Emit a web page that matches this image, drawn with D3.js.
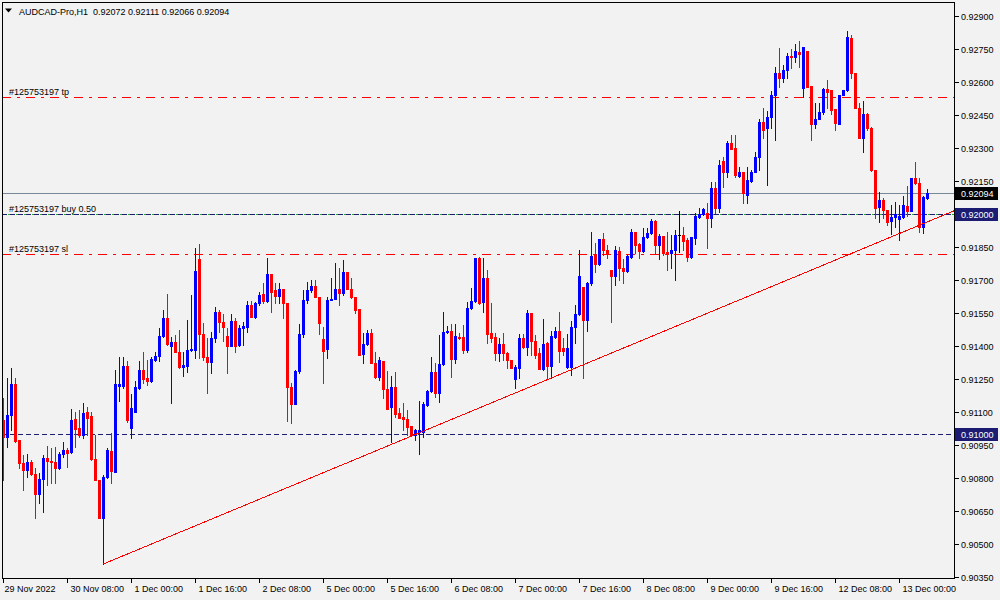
<!DOCTYPE html>
<html><head><meta charset="utf-8">
<script src="https://cdn.jsdelivr.net/npm/d3@7"></script>
<style>
body{margin:0;background:#f2f2f2}
svg{display:block}
text{font-family:"Liberation Sans",Arial,sans-serif;font-size:9px;fill:#000}
</style>
</head><body>
<svg id="c" width="1000" height="600"></svg>
<script>
// ---------- data ----------
const symbolTitle = "AUDCAD-Pro,H1";
const titleOHLC = ["0.92072","0.92111","0.92066","0.92094"];

const open = [
0.91062,0.90985,0.91085,0.91226,0.90971,0.90867,0.90835,0.90871,0.90817,0.90726,
0.90794,0.90890,0.90876,0.90871,0.90844,0.90908,0.90926,0.90917,0.91067,0.91026,
0.90994,0.91099,0.91081,0.90885,0.90790,0.90617,0.90803,0.90921,0.90826,0.91217,
0.91217,0.91308,0.91026,0.91099,0.91208,0.91290,0.91253,0.91240,0.91335,0.91353,
0.91444,0.91526,0.91399,0.91417,0.91371,0.91303,0.91308,0.91380,0.91380,0.91794,
0.91453,0.91349,0.91326,0.91435,0.91553,0.91508,0.91444,0.91399,0.91512,0.91403,
0.91480,0.91485,0.91585,0.91531,0.91594,0.91635,0.91603,0.91726,0.91653,0.91626,
0.91658,0.91594,0.91212,0.91135,0.91285,0.91453,0.91608,0.91653,0.91671,0.91621,
0.91431,0.91385,0.91608,0.91612,0.91658,0.91640,0.91735,0.91658,0.91621,0.91567,
0.91362,0.91408,0.91458,0.91321,0.91258,0.91330,0.91203,0.91121,0.91212,0.91094,
0.91076,0.91067,0.91035,0.90994,0.91008,0.91008,0.91131,0.91194,0.91281,0.91185,
0.91317,0.91462,0.91467,0.91340,0.91440,0.91440,0.91380,0.91572,0.91603,0.91799,
0.91599,0.91708,0.91458,0.91440,0.91367,0.91408,0.91367,0.91335,0.91249,0.91299,
0.91435,0.91394,0.91549,0.91421,0.91367,0.91294,0.91412,0.91308,0.91440,0.91467,
0.91390,0.91303,0.91303,0.91485,0.91544,0.91667,0.91517,0.91685,0.91817,0.91772,
0.91885,0.91835,0.91744,0.91717,0.91831,0.91753,0.91740,0.91803,0.91917,0.91862,
0.91831,0.91894,0.91912,0.91967,0.91858,0.91899,0.91826,0.91822,0.91835,0.91903,
0.91903,0.91880,0.91803,0.91890,0.91985,0.91999,0.92003,0.91981,0.92117,0.92026,
0.92240,0.92190,0.92321,0.92299,0.92172,0.92190,0.92085,0.92149,0.92190,0.92258,
0.92417,0.92390,0.92440,0.92540,0.92640,0.92617,0.92653,0.92717,0.92712,0.92735,
0.92571,0.92740,0.92581,0.92408,0.92430,0.92462,0.92567,0.92562,0.92476,0.92408,
0.92540,0.92562,0.92799,0.92640,0.92481,0.92344,0.92453,0.92390,0.92199,0.92031,
0.92062,0.92017,0.91967,0.91985,0.91976,0.91985,0.92035,0.92012,0.92162,0.92140,
0.91940,0.92072];

const high = [
0.91162,0.91253,0.91299,0.91253,0.90971,0.90903,0.90908,0.90880,0.90844,0.90821,
0.90903,0.90944,0.90935,0.90940,0.90917,0.90962,0.90935,0.91112,0.91099,0.91108,
0.91140,0.91121,0.91099,0.90994,0.90790,0.90812,0.90935,0.91003,0.91290,0.91349,
0.91349,0.91330,0.91180,0.91240,0.91330,0.91371,0.91335,0.91349,0.91371,0.91480,
0.91562,0.91635,0.91440,0.91449,0.91471,0.91371,0.91517,0.91630,0.91844,0.91862,
0.91503,0.91435,0.91462,0.91576,0.91562,0.91544,0.91480,0.91544,0.91526,0.91494,
0.91508,0.91603,0.91603,0.91599,0.91644,0.91685,0.91799,0.91726,0.91685,0.91685,
0.91658,0.91594,0.91231,0.91290,0.91499,0.91653,0.91689,0.91699,0.91699,0.91621,
0.91485,0.91621,0.91708,0.91776,0.91753,0.91790,0.91735,0.91708,0.91621,0.91567,
0.91458,0.91471,0.91476,0.91371,0.91349,0.91330,0.91285,0.91262,0.91281,0.91117,
0.91140,0.91108,0.91035,0.91021,0.91149,0.91144,0.91199,0.91349,0.91321,0.91449,
0.91553,0.91490,0.91499,0.91499,0.91458,0.91494,0.91599,0.91662,0.91799,0.91803,
0.91799,0.91744,0.91594,0.91458,0.91435,0.91458,0.91371,0.91335,0.91312,0.91453,
0.91453,0.91562,0.91549,0.91449,0.91390,0.91522,0.91417,0.91467,0.91485,0.91553,
0.91435,0.91453,0.91512,0.91585,0.91835,0.91667,0.91689,0.91917,0.91867,0.91885,
0.91912,0.91858,0.91744,0.91853,0.91849,0.91794,0.91812,0.91930,0.91917,0.91867,
0.91935,0.91935,0.91976,0.91971,0.91908,0.91899,0.91917,0.91903,0.91926,0.92012,
0.91940,0.91890,0.91894,0.92003,0.92026,0.92026,0.92049,0.92144,0.92144,0.92244,
0.92258,0.92331,0.92358,0.92358,0.92213,0.92190,0.92213,0.92199,0.92281,0.92430,
0.92481,0.92467,0.92558,0.92667,0.92753,0.92676,0.92730,0.92749,0.92771,0.92785,
0.92758,0.92740,0.92581,0.92503,0.92503,0.92571,0.92608,0.92562,0.92476,0.92540,
0.92562,0.92831,0.92812,0.92640,0.92503,0.92512,0.92458,0.92394,0.92199,0.92099,
0.92071,0.92017,0.92040,0.92053,0.92040,0.92081,0.92126,0.92162,0.92235,0.92162,
0.92081,0.92111];

const low = [
0.90790,0.90940,0.91017,0.90962,0.90844,0.90744,0.90803,0.90812,0.90617,0.90685,
0.90644,0.90767,0.90776,0.90776,0.90840,0.90894,0.90849,0.90912,0.90940,0.90985,
0.90981,0.90994,0.90880,0.90790,0.90617,0.90408,0.90799,0.90776,0.90826,0.91149,
0.91208,0.91053,0.90981,0.91099,0.91203,0.91231,0.91221,0.91235,0.91330,0.91330,
0.91440,0.91403,0.91140,0.91371,0.91299,0.91262,0.91281,0.91376,0.91344,0.91344,
0.91335,0.91185,0.91276,0.91417,0.91462,0.91421,0.91276,0.91399,0.91371,0.91399,
0.91403,0.91462,0.91531,0.91526,0.91585,0.91594,0.91599,0.91553,0.91594,0.91594,
0.91526,0.91058,0.91049,0.91135,0.91276,0.91440,0.91594,0.91644,0.91621,0.91453,
0.91231,0.91344,0.91608,0.91612,0.91585,0.91630,0.91658,0.91617,0.91549,0.91358,
0.91321,0.91403,0.91321,0.91253,0.91244,0.91162,0.91112,0.90962,0.91076,0.91071,
0.91017,0.90994,0.90994,0.90971,0.90908,0.90985,0.91126,0.91190,0.91167,0.91144,
0.91312,0.91458,0.91258,0.91321,0.91431,0.91367,0.91371,0.91567,0.91599,0.91590,
0.91553,0.91412,0.91417,0.91335,0.91330,0.91335,0.91299,0.91299,0.91208,0.91253,
0.91390,0.91358,0.91358,0.91344,0.91294,0.91290,0.91253,0.91253,0.91435,0.91326,
0.91358,0.91299,0.91267,0.91412,0.91540,0.91253,0.91467,0.91676,0.91735,0.91767,
0.91812,0.91799,0.91508,0.91676,0.91699,0.91685,0.91735,0.91799,0.91822,0.91799,
0.91826,0.91890,0.91908,0.91817,0.91794,0.91812,0.91744,0.91753,0.91699,0.91826,
0.91835,0.91785,0.91799,0.91862,0.91981,0.91994,0.91844,0.91940,0.92003,0.92008,
0.92122,0.92167,0.92294,0.92167,0.92167,0.92049,0.92049,0.92144,0.92190,0.92199,
0.92344,0.92131,0.92390,0.92335,0.92576,0.92599,0.92617,0.92662,0.92690,0.92667,
0.92531,0.92576,0.92335,0.92390,0.92449,0.92453,0.92481,0.92453,0.92381,0.92408,
0.92540,0.92558,0.92617,0.92481,0.92344,0.92281,0.92381,0.92194,0.91981,0.91962,
0.91981,0.91949,0.91908,0.91940,0.91880,0.91981,0.91990,0.92012,0.92135,0.91917,
0.91912,0.92066];

const close = [
0.90985,0.91085,0.91226,0.90967,0.90867,0.90835,0.90871,0.90817,0.90726,0.90794,
0.90890,0.90876,0.90871,0.90844,0.90908,0.90926,0.90912,0.91062,0.91021,0.90994,
0.91094,0.91071,0.90885,0.90790,0.90617,0.90803,0.90926,0.90830,0.91226,0.91226,
0.91308,0.91062,0.91117,0.91212,0.91290,0.91249,0.91240,0.91340,0.91353,0.91444,
0.91526,0.91408,0.91417,0.91371,0.91303,0.91312,0.91380,0.91385,0.91740,0.91453,
0.91349,0.91326,0.91435,0.91553,0.91508,0.91485,0.91399,0.91512,0.91399,0.91480,
0.91490,0.91585,0.91531,0.91594,0.91630,0.91603,0.91726,0.91644,0.91626,0.91658,
0.91594,0.91212,0.91135,0.91285,0.91453,0.91608,0.91653,0.91671,0.91621,0.91503,
0.91376,0.91608,0.91612,0.91658,0.91640,0.91735,0.91658,0.91621,0.91562,0.91358,
0.91408,0.91458,0.91321,0.91258,0.91335,0.91203,0.91112,0.91212,0.91090,0.91071,
0.91067,0.91031,0.90994,0.91017,0.91017,0.91135,0.91194,0.91281,0.91185,0.91317,
0.91462,0.91467,0.91340,0.91444,0.91435,0.91380,0.91572,0.91603,0.91799,0.91594,
0.91708,0.91453,0.91435,0.91367,0.91408,0.91367,0.91335,0.91299,0.91303,0.91435,
0.91394,0.91549,0.91421,0.91358,0.91294,0.91408,0.91308,0.91444,0.91467,0.91376,
0.91376,0.91390,0.91485,0.91544,0.91717,0.91517,0.91685,0.91808,0.91772,0.91885,
0.91835,0.91817,0.91717,0.91835,0.91753,0.91740,0.91808,0.91917,0.91858,0.91831,
0.91894,0.91912,0.91967,0.91858,0.91899,0.91822,0.91817,0.91835,0.91903,0.91903,
0.91876,0.91803,0.91894,0.91990,0.91999,0.92021,0.91981,0.92117,0.92026,0.92221,
0.92190,0.92321,0.92294,0.92176,0.92190,0.92094,0.92153,0.92190,0.92258,0.92417,
0.92381,0.92440,0.92540,0.92640,0.92617,0.92653,0.92717,0.92712,0.92740,0.92726,
0.92758,0.92576,0.92408,0.92430,0.92462,0.92567,0.92553,0.92471,0.92412,0.92540,
0.92562,0.92803,0.92640,0.92481,0.92344,0.92453,0.92390,0.92199,0.92026,0.92062,
0.92017,0.91962,0.91985,0.91999,0.91990,0.92040,0.92012,0.92162,0.92140,0.91940,
0.92076,0.92094];

// time axis: bar index of each label and the label text
const timeTickIndex = [0,16,32,48,64,80,96,112,128,144,160,176,192,208,224];
const timeTickLabels = ["29 Nov 2022","30 Nov 08:00","1 Dec 00:00","1 Dec 16:00","2 Dec 08:00",
  "5 Dec 00:00","5 Dec 16:00","6 Dec 08:00","7 Dec 00:00","7 Dec 16:00","8 Dec 08:00",
  "9 Dec 00:00","9 Dec 16:00","12 Dec 08:00","13 Dec 00:00"];

// price axis
const priceMin = 0.90350, priceMax = 0.92900, priceStep = 0.00150;
const priceTicks = d3.range(0, 18).map(k => +(priceMin + k * priceStep).toFixed(5));

// levels
const orderId = "#125753197";
const tpPrice = 0.92529, slPrice = 0.91817, buyPrice = 0.92000, buyLots = "0.50";
const bidPrice = 0.92094;
const hLinePrice = 0.91000;
const trendStart = {bar: 25, price: 0.90408};
const trendEnd = {bar: 231, price: 0.91963};

// ---------- drawing ----------
const W = 1000, H = 600;
const L = 2, R = 954, T = 2, B = 578;
const svg = d3.select("#c");
svg.append("rect").attr("width", W).attr("height", H).attr("fill", "#f2f2f2");

const x = d3.scaleLinear().domain([-0.25, 237.75]).range([L, R]);
const y = d3.scaleLinear().domain([priceMin, priceMax]).range([576.7, 15.7]);
const px = i => Math.round(x(i));
const py = p => Math.round(y(p));

svg.append("clipPath").attr("id", "plot").append("rect")
  .attr("x", L + 1).attr("y", T + 1).attr("width", R - L - 1).attr("height", B - T - 1);
const plot = svg.append("g").attr("clip-path", "url(#plot)").attr("shape-rendering", "crispEdges");

function hline(g, p, color, dash, offset) {
  g.append("line").attr("x1", L).attr("x2", R).attr("y1", py(p) + 0.5).attr("y2", py(p) + 0.5)
    .attr("stroke", color).attr("stroke-width", 1)
    .attr("stroke-dasharray", dash || null).attr("stroke-dashoffset", offset || null);
}

// bid line (behind bars)
hline(plot, bidPrice, "#778899");
// tp / sl
hline(plot, tpPrice, "#ff0000", "9,6,3,6");
hline(plot, slPrice, "#ff0000", "9,6,3,6");
// horizontal levels
hline(plot, hLinePrice, "#1c1c72", "5,3");
hline(plot, buyPrice, "#1c1c72", "5,3");
hline(plot, buyPrice, "#22b022", "2,6", -5.5);

// candles
const bars = d3.range(open.length).map(i => ({i, o: open[i], h: high[i], l: low[i], c: close[i]}));
const colorOf = d => d.c > d.o ? "#0000ff" : (d.c < d.o ? "#ff0000" : "#000000");
const cg = plot.append("g");
cg.selectAll("line.w").data(bars).join("line").attr("class", "w")
  .attr("x1", d => px(d.i) + 0.5).attr("x2", d => px(d.i) + 0.5)
  .attr("y1", d => py(d.h)).attr("y2", d => py(d.l) + 1)
  .attr("stroke", colorOf).attr("stroke-width", 1);
cg.selectAll("rect.b").data(bars.filter(d => d.o !== d.c)).join("rect").attr("class", "b")
  .attr("x", d => px(d.i) - 1).attr("width", 3)
  .attr("y", d => py(Math.max(d.o, d.c)))
  .attr("height", d => Math.max(1, py(Math.min(d.o, d.c)) - py(Math.max(d.o, d.c)) + 1))
  .attr("fill", colorOf);
cg.selectAll("line.dj").data(bars.filter(d => d.o === d.c)).join("line").attr("class", "dj")
  .attr("x1", d => px(d.i) - 1).attr("x2", d => px(d.i) + 2)
  .attr("y1", d => py(d.o) + 0.5).attr("y2", d => py(d.o) + 0.5)
  .attr("stroke", "#000").attr("stroke-width", 1);

// trend line (ray)
const slope = (trendEnd.price - trendStart.price) / (trendEnd.bar - trendStart.bar);
const rayEnd = 238;
svg.append("g").attr("clip-path", "url(#plot)").append("line")
  .attr("x1", x(trendStart.bar) + 0.5).attr("y1", y(trendStart.price))
  .attr("x2", x(rayEnd) + 0.5).attr("y2", y(trendStart.price + slope * (rayEnd - trendStart.bar)))
  .attr("stroke", "#ff0000").attr("stroke-width", 1).attr("shape-rendering", "crispEdges");

// order labels
const lbl = svg.append("g");
lbl.append("text").attr("x", 9).attr("y", py(tpPrice) - 2).text(orderId + " tp");
lbl.append("text").attr("x", 9).attr("y", py(buyPrice) - 2.5).text(orderId + " buy " + buyLots);
lbl.append("text").attr("x", 9).attr("y", py(slPrice) - 2).text(orderId + " sl");

// frame
svg.append("path").attr("d", `M${L + 0.5},${T + 0.5}H${R + 0.5}V${B + 0.5}H${L + 0.5}Z`)
  .attr("fill", "none").attr("stroke", "#000").attr("stroke-width", 1).attr("shape-rendering", "crispEdges");

// price axis
const pa = svg.append("g");
priceTicks.forEach(p => {
  const yy = py(p) + 0.5;
  pa.append("line").attr("x1", R + 1).attr("x2", R + 5).attr("y1", yy).attr("y2", yy)
    .attr("stroke", "#000").attr("shape-rendering", "crispEdges");
  pa.append("text").attr("x", 961).attr("y", yy + 3.3).text(p.toFixed(5));
});
function priceBox(p, bg) {
  const yy = py(p) + 0.5;
  pa.append("rect").attr("x", R + 1).attr("y", yy - 6.5).attr("width", 43).attr("height", 13).attr("fill", bg);
  pa.append("text").attr("x", 961).attr("y", yy + 3.3).attr("fill", "#fff").style("fill", "#fff").text(p.toFixed(5));
}
priceBox(bidPrice, "#000000");
priceBox(buyPrice, "#1c1c72");
priceBox(hLinePrice, "#1c1c72");

// time axis
const ta = svg.append("g");
timeTickIndex.forEach((idx, k) => {
  const xx = px(idx) + 0.5;
  ta.append("line").attr("x1", xx).attr("x2", xx).attr("y1", B + 1).attr("y2", B + 5)
    .attr("stroke", "#000").attr("shape-rendering", "crispEdges");
  ta.append("text").attr("x", xx + (k === 0 ? 1 : 3)).attr("y", 592).text(timeTickLabels[k]);
});

// title
svg.append("path").attr("d", "M5,8.5H12L8.5,12.5Z").attr("fill", "#000");
svg.append("text").attr("x", 19).attr("y", 14.5).style("white-space", "pre")
  .text(symbolTitle + "  " + titleOHLC.join(" "));
</script>
</body></html>
